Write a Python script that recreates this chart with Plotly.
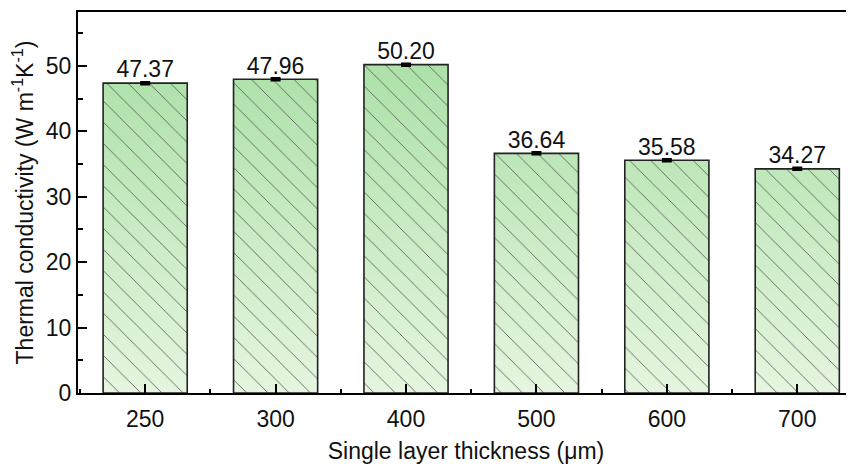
import plotly.graph_objects as go

categories = ["250", "300", "400", "500", "600", "700"]
values = [47.37, 47.96, 50.20, 36.64, 35.58, 34.27]
errors = [0.15, 0.15, 0.15, 0.15, 0.15, 0.15]
labels = [f"{v:.2f}" for v in values]

BAR_W = 0.645
FONT = "Arial, Liberation Sans, sans-serif"

xs, ys = [], []
for i, v in enumerate(values):
    xs += [i - BAR_W / 2, i - BAR_W / 2, i + BAR_W / 2, i + BAR_W / 2, i - BAR_W / 2, None]
    ys += [0, v, v, 0, 0, None]

fig = go.Figure()
fig.add_trace(go.Scatter(
    x=xs, y=ys, mode="lines", fill="toself",
    line=dict(width=0, color="rgba(0,0,0,0)"),
    fillgradient=dict(type="vertical", start=0, stop=50,
                      colorscale=[[0, "#e6f5df"], [1, "#ade1a9"]]),
    hoverinfo="skip", showlegend=False,
))
fig.add_trace(go.Scatter(
    x=xs, y=ys, mode="lines", fill="toself",
    fillcolor="rgba(0,0,0,0)",
    fillpattern=dict(shape="\\", fgcolor="#4a4a4a", bgcolor="rgba(0,0,0,0)",
                     size=15, solidity=0.05, fillmode="replace"),
    line=dict(width=1.6, color="#222222"),
    hoverinfo="skip", showlegend=False,
))
fig.add_trace(go.Scatter(
    x=list(range(len(values))), y=values, mode="text",
    text=labels, textposition="top center",
    textfont=dict(family=FONT, size=23, color="#111111"),
    error_y=dict(type="data", array=errors, visible=True, width=5,
                 thickness=2.5, color="#000000"),
    hoverinfo="skip", showlegend=False,
))

# page body has an 8px margin, so the figure is offset by 8px
fig.update_layout(
    width=846, height=461,
    margin=dict(l=70, r=0, t=4, b=76),
    paper_bgcolor="white", plot_bgcolor="white",
    font=dict(family=FONT, size=23, color="#111111"),
    showlegend=False,
)
fig.update_xaxes(
    automargin=False,
    range=[-0.515, 5.435],
    tickmode="array", tickvals=list(range(len(categories))), ticktext=categories,
    ticks="inside", ticklen=9, tickwidth=2, tickcolor="#000",
    ticklabelstandoff=4,
    minor=dict(tickmode="array", tickvals=[i + 0.5 for i in range(-1, len(categories))],
               ticks="inside", ticklen=4, tickwidth=2, tickcolor="#000"),
    showline=True, linewidth=2, linecolor="#000", mirror=True,
    showgrid=False, zeroline=False,
    title=dict(text="Single layer thickness (μm)", font=dict(size=23), standoff=12),
    tickfont=dict(size=23),
)
fig.update_yaxes(
    automargin=False,
    range=[0, 58.25], dtick=10, tick0=0,
    ticks="inside", ticklen=9, tickwidth=2, tickcolor="#000",
    minor=dict(dtick=5, ticks="inside", ticklen=5, tickwidth=2, tickcolor="#000"),
    showline=True, linewidth=2, linecolor="#000", mirror=False,
    showgrid=False, zeroline=False,
    title=dict(text="Thermal conductivity (W m<sup>-1</sup>K<sup>-1</sup>)",
               font=dict(size=23), standoff=8),
    tickfont=dict(size=23),
)

fig.write_html("out.html")
